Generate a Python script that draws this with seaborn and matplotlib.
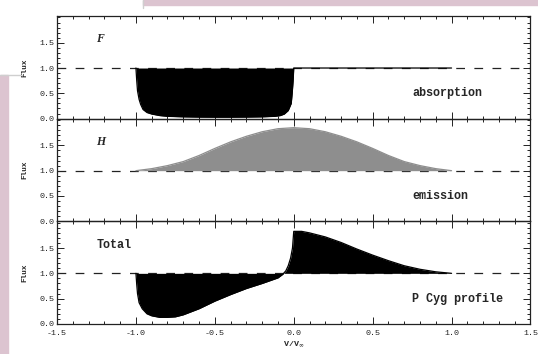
import matplotlib
matplotlib.use("Agg")
import matplotlib.pyplot as plt
import seaborn as sns
import pandas as pd
from matplotlib.ticker import MultipleLocator, FixedLocator, FormatStrFormatter
from matplotlib.patches import Rectangle
from matplotlib.lines import Line2D

sns.set_theme(style="white")
plt.rcParams['font.family'] = ['Liberation Mono', 'DejaVu Sans']
plt.rcParams['axes.unicode_minus'] = False

# Absorption component F(v)
v_abs = [-1.0, -0.995, -0.99, -0.98, -0.97, -0.955, -0.93, -0.9, -0.85, -0.8,
         -0.7, -0.6, -0.5, -0.4, -0.3, -0.2, -0.12, -0.085, -0.06, -0.035,
         -0.016, -0.01, -0.004, 0.0, 0.5, 1.0]
f_abs = [1.0, 0.75, 0.55, 0.38, 0.28, 0.18, 0.12, 0.09, 0.06, 0.045,
         0.035, 0.03, 0.028, 0.028, 0.03, 0.035, 0.045, 0.06, 0.09, 0.16,
         0.3, 0.5, 0.75, 1.0, 1.0, 1.0]

# Emission component H(v)
v_em = [-1.0, -0.9, -0.8, -0.7, -0.6, -0.5, -0.4, -0.3, -0.2, -0.1, 0.0,
        0.1, 0.2, 0.3, 0.4, 0.5, 0.6, 0.7, 0.8, 0.9, 1.0]
f_em = [1.0, 1.04, 1.10, 1.18, 1.30, 1.44, 1.57, 1.68, 1.77, 1.83, 1.85,
        1.83, 1.77, 1.68, 1.57, 1.44, 1.30, 1.18, 1.10, 1.04, 1.0]

# Combined P Cygni profile
v_tot = [-1.0, -0.995, -0.99, -0.98, -0.96, -0.93, -0.9, -0.85, -0.8, -0.75,
         -0.7, -0.6, -0.5, -0.4, -0.3, -0.2, -0.1, -0.07, -0.05, -0.035,
         -0.02, -0.008, 0.0, 0.05, 0.1, 0.2, 0.3, 0.4, 0.5, 0.6, 0.7, 0.8,
         0.9, 1.0]
f_tot = [1.0, 0.78, 0.6, 0.42, 0.3, 0.2, 0.16, 0.13, 0.13, 0.14,
         0.18, 0.3, 0.45, 0.58, 0.7, 0.8, 0.91, 0.98, 1.05, 1.15,
         1.3, 1.5, 1.83, 1.83, 1.80, 1.72, 1.61, 1.48, 1.36, 1.25, 1.15, 1.08,
         1.03, 1.0]

panel_tags = ["F", "H", "Total"]
panel_names = ["absorption", "emission", "P Cyg profile"]
x_ticks = [-1.5, -1.0, -0.5, 0.0, 0.5, 1.0, 1.5]
y_ticks = [0.0, 0.5, 1.0, 1.5]

series = [
    (pd.DataFrame({"v": v_abs, "flux": f_abs}), "black"),
    (pd.DataFrame({"v": v_em, "flux": f_em}), "#8e8e8e"),
    (pd.DataFrame({"v": v_tot, "flux": f_tot}), "black"),
]

fig = plt.figure(figsize=(5.38, 3.54), dpi=100)
fig.patch.set_facecolor("white")

# paper-edge backdrop around the scanned figure
pink = "#dcc4d0"
fig.patches.append(Rectangle((0, 0), 8 / 538, (354 - 75) / 354,
                             transform=fig.transFigure, color=pink, zorder=-5))
fig.patches.append(Rectangle((143 / 538, (354 - 5) / 354), 1 - 143 / 538, 5 / 354,
                             transform=fig.transFigure, color=pink, zorder=-5))
fig.lines.append(Line2D([0, 22 / 538], [(354 - 75) / 354] * 2,
                        transform=fig.transFigure, color="#cfcfcf", lw=1.0))
fig.lines.append(Line2D([143 / 538] * 2, [(354 - 8) / 354, 1],
                        transform=fig.transFigure, color="#cfcfcf", lw=1.0))

axes = fig.subplots(3, 1, sharex=True, gridspec_kw=dict(hspace=0))
fig.subplots_adjust(left=0.106, right=0.986, bottom=0.085, top=0.955)

for i, (ax, (df, fill_col)) in enumerate(zip(axes, series)):
    ax.set_facecolor("none")
    ax.axhline(1.0, color="#222222", lw=0.9, ls=(0, (7, 7.5)), zorder=1)
    ax.fill_between(df["v"], df["flux"], 1.0, color=fill_col, lw=0, zorder=2)
    sns.lineplot(data=df, x="v", y="flux", ax=ax, color=fill_col if i == 1 else "black",
                 lw=0.9, estimator=None, sort=False, zorder=3)
    ax.set_xlim(-1.5, 1.5)
    ax.set_ylim(0, 2.03)
    ax.yaxis.set_major_locator(FixedLocator(y_ticks))
    ax.yaxis.set_minor_locator(MultipleLocator(0.1))
    ax.yaxis.set_major_formatter(FormatStrFormatter("%.1f"))
    ax.xaxis.set_major_locator(FixedLocator(x_ticks))
    ax.xaxis.set_minor_locator(MultipleLocator(0.1))
    ax.xaxis.set_major_formatter(FormatStrFormatter("%.1f"))
    ax.tick_params(which="both", direction="in", top=True, right=True,
                   color="#222222", width=0.7, labelsize=6,
                   bottom=True, left=True)
    ax.tick_params(axis="y", pad=2)
    ax.tick_params(axis="x", pad=4.5)
    ax.tick_params(which="major", length=5)
    ax.tick_params(which="minor", length=2.5)
    for s in ax.spines.values():
        s.set_color("#222222")
        s.set_linewidth(0.9)
    ax.set_ylabel("Flux", fontsize=5.5, fontweight="bold", labelpad=8)
    ax.set_xlabel("")
    ax.text(-1.25, 1.57, panel_tags[i], fontsize=8.5, fontweight="bold",
            fontstyle="italic" if i < 2 else "normal",
            family=["Liberation Serif", "DejaVu Serif"] if i < 2 else None,
            va="center", ha="left")
    ax.text(0.75, 0.5, panel_names[i], fontsize=8.5, fontweight="bold",
            va="center", ha="left")
    if i < 2:
        ax.tick_params(labelbottom=False)

axes[-1].set_xlabel(r"V/V$_{\infty}$", fontsize=6, fontweight="bold", labelpad=1.5)

fig.savefig("out.png", dpi=100, facecolor=fig.get_facecolor())
